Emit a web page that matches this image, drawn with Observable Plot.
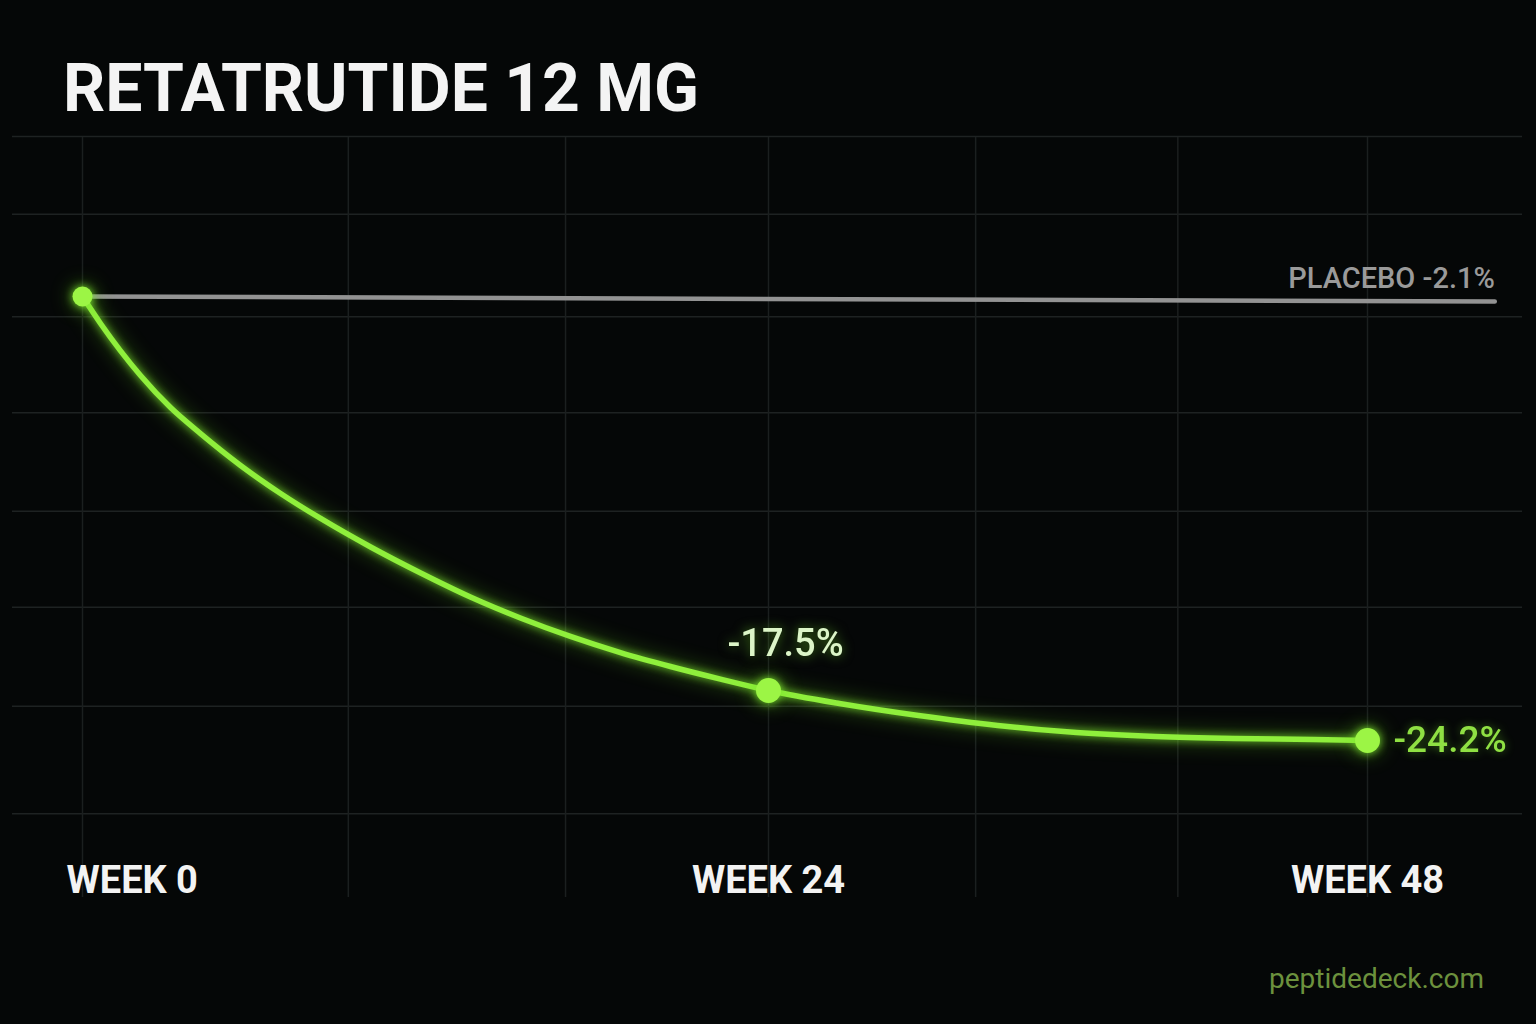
<!DOCTYPE html>
<html>
<head>
<meta charset="utf-8">
<script src="https://cdn.jsdelivr.net/npm/d3@7"></script>
<script src="https://cdn.jsdelivr.net/npm/@observablehq/plot@0.6"></script>
<style>
  html, body { margin: 0; padding: 0; background: #050707; }
  #wrap { width: 1536px; height: 1024px; overflow: hidden; background: #050707; font-family: Roboto, "Noto Sans", sans-serif; }
  #title { height: 136px; box-sizing: border-box; padding: 56px 0 0 63px; font-size: 66px; line-height: 66px; font-weight: 700; color: #f4f4f4; white-space: nowrap; }
  #chart svg { display: block; }
  #footer { height: 88px; box-sizing: border-box; padding: 29px 52px 0 0; text-align: right; font-size: 28px; line-height: 28px; font-weight: 400; color: #6c913d; }
</style>
</head>
<body>
<div id="wrap">
  <div id="title">RETATRUTIDE 12 MG</div>
  <div id="chart"></div>
  <div id="footer">peptidedeck.com</div>
</div>
<script>
// ---- data ----
const weeks = [0, 24, 48];
const retatrutide = [0, -17.5, -24.2];              // % change, labelled points
const placeboWeeks = [0, 53.1];
const placebo = [0, -2.1];                          // % change
// green curve (week, % change as drawn)
const traceWeeks  = [0, 0.63, 2.03, 3.08, 4.13, 5.53, 6.93, 8.33, 10.08, 11.83, 13.57, 15.32, 17.07, 18.82, 20.57, 22.32, 24,
                     26.84, 30.01, 33.18, 36.34, 39.51, 42.67, 45.84, 48];
const traceValues = [0, -2.97, -5.03, -6.30, -7.33, -8.59, -9.70, -10.69, -11.82, -12.85, -13.80, -14.63, -15.36, -16.00, -16.55, -17.05, -17.5,
                     -19.24, -20.85, -22.19, -23.13, -23.66, -23.93, -24.07, -24.2];
const weekTicks = [0, 24, 48];
const weekLabels = ["WEEK 0", "WEEK 24", "WEEK 48"];
const gridWeeks = [0, 9.3, 16.9, 24, 32.3, 40.4, 48];
const gridValues = [7, 3.6, -2.7, -6.5, -10.4, -14.2, -19.6, -34];

const trace = traceWeeks.map((w, i) => ({week: w, value: traceValues[i]}));
const placeboRows = placeboWeeks.map((w, i) => ({week: w, value: placebo[i]}));

const GREEN = "#8fef3c";
const DOT = "#9cf545";
const glow = "drop-shadow(0 0 4px rgba(130,235,50,0.9)) drop-shadow(0 0 10px rgba(110,220,30,0.45))";

const chart = Plot.plot({
  width: 1536,
  height: 800,
  marginTop: 1,
  marginBottom: 39,
  marginLeft: 12,
  marginRight: 14,
  style: {background: "transparent", fontFamily: "Roboto, 'Noto Sans', sans-serif", overflow: "visible"},
  x: {type: "linear", domain: [0, 24, 48], range: [82, 768, 1367], axis: null},
  y: {type: "linear", domain: [-24.2, -17.5, -2.1, 0, 7], range: [604, 554, 165, 160, 0], axis: null},
  marks: [
    Plot.ruleY(gridValues, {y: d => d, stroke: "#1e2222", strokeWidth: 1.5}),
    Plot.ruleX(gridWeeks, {x: d => d, stroke: "#1b1f1f", strokeWidth: 1.5}),
    Plot.line(placeboRows, {x: "week", y: "value", stroke: "#939393", strokeWidth: 4.5}),
    Plot.text([1], {x: () => placeboWeeks[1], y: () => placebo[1], text: () => `PLACEBO ${placebo[1]}%`,
      textAnchor: "end", lineAnchor: "bottom", dy: -14, fontSize: 29, fontWeight: 500, fill: "#9a9a9a"}),
    Plot.line(trace, {x: "week", y: "value", curve: "monotone-x", stroke: GREEN, strokeWidth: 5.5, imageFilter: glow}),
    Plot.dot([0], {x: i => weeks[i], y: i => retatrutide[i], r: 10, fill: DOT, stroke: "none", imageFilter: glow}),
    Plot.dot([1, 2], {x: i => weeks[i], y: i => retatrutide[i], r: 12.5, fill: DOT, stroke: "none", imageFilter: glow}),
    Plot.text([1], {x: i => weeks[i], y: i => retatrutide[i], text: i => `${retatrutide[i]}%`,
      textAnchor: "middle", lineAnchor: "bottom", dx: 17, dy: -35, fontSize: 38, fontWeight: 500, fill: "#dcf5c8",
      imageFilter: "drop-shadow(0 0 6px rgba(120,230,40,0.55))"}),
    Plot.text([2], {x: i => weeks[i], y: i => retatrutide[i], text: i => `${retatrutide[i]}%`,
      textAnchor: "start", lineAnchor: "middle", dx: 26, fontSize: 37, fontWeight: 500, fill: "#8fe043",
      imageFilter: "drop-shadow(0 0 5px rgba(120,230,40,0.45))"}),
    Plot.text([0], {x: i => weekTicks[i], text: i => weekLabels[i], frameAnchor: "bottom",
      textAnchor: "start", lineAnchor: "bottom", dx: -16, dy: -5, fontSize: 38, fontWeight: 700, fill: "#f3f3f3"}),
    Plot.text([1, 2], {x: i => weekTicks[i], text: i => weekLabels[i], frameAnchor: "bottom",
      textAnchor: "middle", lineAnchor: "bottom", dy: -5, fontSize: 38, fontWeight: 700, fill: "#f3f3f3"})
  ]
});
document.getElementById("chart").appendChild(chart);
</script>
</body>
</html>
